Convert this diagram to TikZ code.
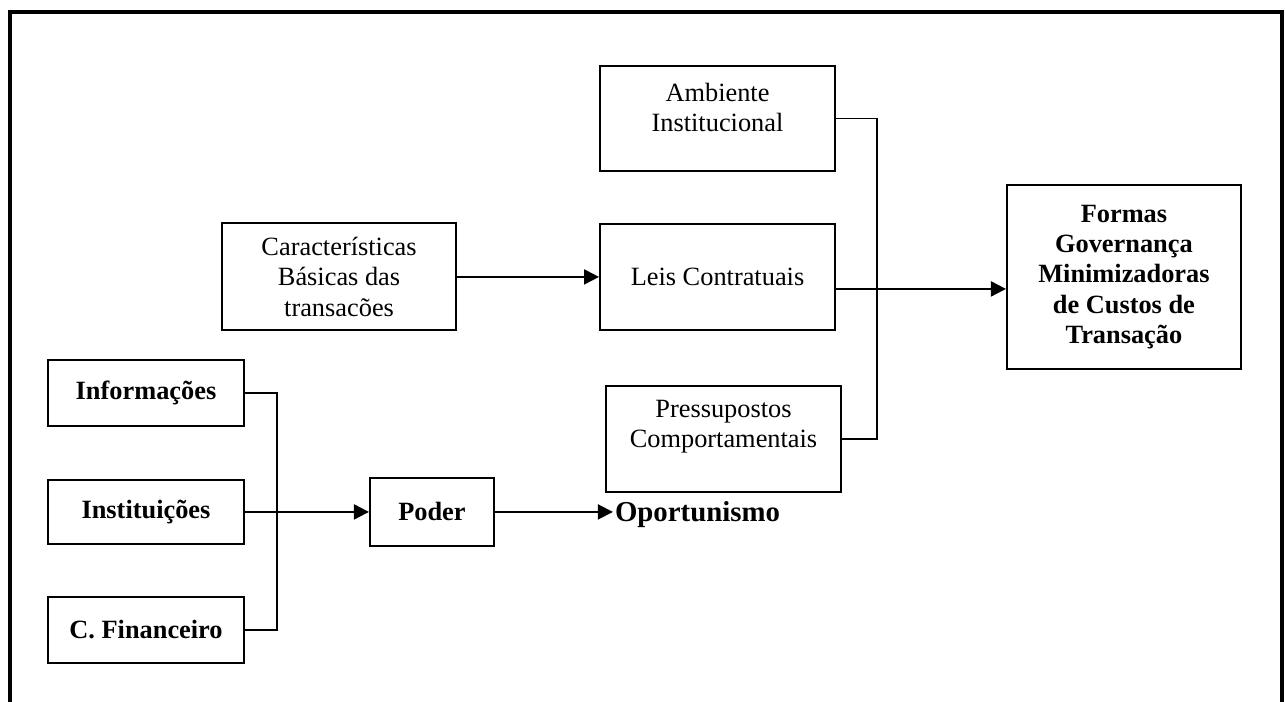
\documentclass[tikz,border=0pt]{standalone}
\usepackage{fontspec}
\setmainfont{Liberation Serif}
\usetikzlibrary{arrows.meta, positioning}

\begin{document}
\begin{tikzpicture}[
        node distance=1cm and 1cm,
        % Estilos para as caixas
        caixa/.style={
                rectangle,
                draw,
                line width=1.1pt,
                minimum width=4.7cm,
                minimum height=2.12cm,
                align=center,
                font=\fontsize{15}{17.3}\selectfont
            },
        caixanegrito/.style={
                caixa,
                minimum width=3.92cm,
                minimum height=1.32cm,
                font=\fontsize{15}{17.3}\selectfont\bfseries
            },
        % Linhas e setas
        linha/.style={
                line width=1.1pt
            },
        seta/.style={
                linha,
                -{Triangle[length=0.3cm, width=0.3cm]}
            },
        moldura/.style={
                line width=2.3pt
            }
    ]

    \useasboundingbox (0,0) rectangle (25.7,-14.04);
    \clip (0,0) rectangle (25.7,-14.04);

    % MOLDURA
    \draw[moldura] (0.2,-14.5) |- (25.64,-0.24) -- (25.64,-14.5);

    % COLUNA CENTRAL
    \node[caixa, minimum height=2.1cm, text depth=12.5pt] (ambiente) at (14.35,-2.37) {Ambiente\\Institucional};
    \node[caixa, below=1.02cm of ambiente] (leis) {Leis Contratuais};
    \node[caixa, below=1.08cm of leis, xshift=0.12cm, text depth=17pt] (pressupostos) {Pressupostos\\Comportamentais};

    % ESQUERDA E DIREITA
    \node[caixa, left=2.84cm of leis, minimum width=4.68cm, minimum height=2.14cm] (caracteristicas) {Características\\Básicas das\\transacões};
    \node[caixanegrito, right=3.4cm of leis, minimum width=4.68cm, minimum height=3.68cm] (formas) {Formas\\Governança\\Minimizadoras\\de Custos de\\Transação};

    % GRUPO DE BAIXO
    \node[caixanegrito] (informacoes) at (2.92,-7.86) {Informações};
    \node[caixanegrito, below=1.04cm of informacoes, minimum height=1.28cm] (instituicoes) {Instituições};
    \node[caixanegrito, below=1.02cm of instituicoes] (financeiro) {C. Financeiro};
    \node[caixanegrito, right=2.48cm of instituicoes, minimum width=2.48cm, minimum height=1.36cm] (poder) {Poder};
    \node[right=2.36cm of poder, inner sep=1pt, text depth=0pt, font=\fontsize{16.4}{19}\selectfont\bfseries] (oportunismo) {Oportunismo};

    % LIGACOES
    \draw[linha] (ambiente.east) -- ++(0.82,0) |- (pressupostos.east);
    \draw[seta] ([yshift=-0.24cm]leis.east) -- ([yshift=-0.24cm]leis.east -| formas.west);
    \draw[seta] (caracteristicas) -- (leis);
    \draw[linha] (informacoes.east) -- ++(0.64,0) |- (financeiro.east);
    \draw[seta] (instituicoes) -- (poder);
    \draw[seta] (poder) -- (oportunismo);

\end{tikzpicture}
\end{document}
